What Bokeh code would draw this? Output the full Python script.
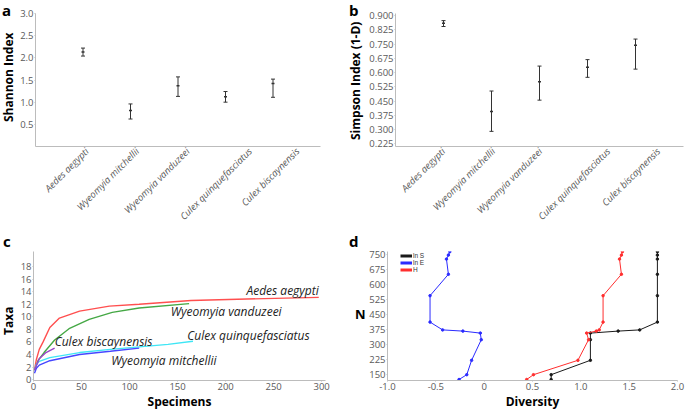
import math
from bokeh.plotting import figure
from bokeh.layouts import row, column
from bokeh.models import (Range1d, FixedTicker, Label, Legend, LegendItem,
                          PrintfTickFormatter, ColumnDataSource, Div)
from bokeh.embed import file_html
from bokeh.resources import INLINE

# ---------------- data ----------------
species = ["Aedes aegypti", "Wyeomyia mitchellii", "Wyeomyia vanduzeei",
           "Culex quinquefasciatus", "Culex biscaynensis"]

shannon_mean = [2.13, 0.81, 1.37, 1.12, 1.42]
shannon_low = [2.04, 0.62, 1.13, 1.00, 1.11]
shannon_high = [2.22, 0.96, 1.57, 1.24, 1.52]

simpson_mean = [0.859, 0.395, 0.552, 0.628, 0.743]
simpson_low = [0.842, 0.291, 0.455, 0.575, 0.618]
simpson_high = [0.873, 0.503, 0.634, 0.668, 0.776]

shannon_ticks = [0.5, 1.0, 1.5, 2.0, 2.5, 3.0]
simpson_ticks = [0.225, 0.300, 0.375, 0.450, 0.525, 0.600, 0.675, 0.750, 0.825, 0.900]

# rarefaction curves (Specimens -> Taxa)
aedes_x = [1, 3, 6, 10, 17, 27, 48, 79, 110, 164, 240, 297]
aedes_y = [1.5, 3.2, 4.8, 6.0, 8.3, 9.8, 10.9, 11.7, 12.0, 12.6, 12.9, 13.1]
vand_x = [1, 5, 11, 22, 37, 58, 82, 110, 162]
vand_y = [1.5, 3.1, 4.3, 6.3, 8.1, 9.6, 10.7, 11.4, 12.1]
bisc_x = [1, 6, 13, 22]
bisc_y = [1.5, 3.3, 4.3, 5.0]
quinq_x = [1, 3, 6, 17, 48, 80, 110, 140, 166]
quinq_y = [1.5, 2.4, 2.9, 3.5, 4.3, 4.8, 5.2, 5.6, 6.1]
mitch_x = [1, 3, 6, 17, 48, 80, 110]
mitch_y = [1.0, 1.8, 2.3, 3.0, 4.0, 4.5, 5.0]
taxa_ticks = [0, 2, 4, 6, 8, 10, 12, 14, 16, 18]
spec_ticks = [0, 50, 100, 150, 200, 250, 300]

# diversity profile
N_vals = [126, 150, 222, 325, 358, 368, 374, 413, 545, 652, 728, 748, 765]
lnS = [0.693, 0.693, 1.099, 1.099, 1.099, 1.386, 1.609, 1.792, 1.792, 1.792, 1.792, 1.792, 1.792]
lnE = [-0.26, -0.18, -0.13, -0.03, -0.04, -0.22, -0.43, -0.56, -0.56, -0.37, -0.39, -0.37, -0.355]
H_vals = [0.44, 0.51, 0.97, 1.08, 1.06, 1.16, 1.19, 1.23, 1.23, 1.42, 1.40, 1.42, 1.43]
N_ticks = [150, 225, 300, 375, 450, 525, 600, 675, 750]
div_ticks = [-1.0, -0.5, 0.0, 0.5, 1.0, 1.5, 2.0]
div_labels = ["-1.0", "-0.5", "0", "0.5", "1.0", "1.5", "2.0"]

# ---------------- styling ----------------
FONT = "Open Sans"
TICK_COLOR = "#5a5a5a"
AXIS_COLOR = "#bcbcbc"
ERR_COLOR = "#333333"
TXT = "#222222"
# horizontal nudges (px) of the rotated category labels, as in the original figure
shift_a = [4, 7, 10, 25, 25]
shift_b = [0, 2, 1, 21, 23]


def make_fig(w, h, bl, br, bt, bb, xr, yr):
    p = figure(width=w, height=h, min_border_left=bl, min_border_right=br,
               min_border_top=bt, min_border_bottom=bb,
               x_range=Range1d(*xr), y_range=Range1d(*yr),
               output_backend="svg", toolbar_location=None, tools="")
    p.grid.visible = False
    p.outline_line_color = None
    p.background_fill_color = "white"
    for ax in p.axis:
        ax.axis_line_color = AXIS_COLOR
        ax.major_tick_line_color = AXIS_COLOR
        ax.minor_tick_line_color = None
        ax.major_tick_in = 0
        ax.major_tick_out = 1
        ax.major_label_standoff = 1
        ax.major_label_text_font = FONT
        ax.major_label_text_font_size = "9.5px"
        ax.major_label_text_color = TICK_COLOR
        ax.axis_label_text_font = FONT
        ax.axis_label_text_font_size = "12px"
        ax.axis_label_text_font_style = "bold"
        ax.axis_label_text_color = "black"
        ax.axis_label_standoff = 0
    return p


def _txt(x, y, text, size, rotate=False):
    # rotated texts: (x, y) is where the start of the text meets its top edge
    rot = "transform-origin:0 0;transform:rotate(-90deg);" if rotate else ""
    return (f'<div style="position:absolute;left:{x}px;top:{y}px;'
            f"font-family:'{FONT}';font-weight:bold;font-size:{size}px;"
            f'line-height:normal;white-space:nowrap;color:#000;{rot}">{text}</div>')


def strip(w, h, parts):
    """Narrow text column beside a panel: panel letter and y-axis title."""
    html = (f'<div style="position:relative;width:{w}px;height:{h}px;">'
            + "".join(parts) + "</div>")
    return Div(text=html, width=w, height=h, margin=(0, 0, 0, 0))


def errorbars(p, means, lows, highs):
    idx = list(range(len(means)))
    src = ColumnDataSource(dict(x=idx, m=means, lo=lows, hi=highs))
    p.segment(x0="x", y0="lo", x1="x", y1="hi", source=src,
              line_color=ERR_COLOR, line_width=1)
    p.scatter(x="x", y="lo", source=src, marker="dash", size=4,
              line_color=ERR_COLOR, line_width=1)
    p.scatter(x="x", y="hi", source=src, marker="dash", size=4,
              line_color=ERR_COLOR, line_width=1)
    p.scatter(x="x", y="m", source=src, marker="dash", size=3,
              line_color=ERR_COLOR, line_width=1.5)


def cat_axis(p, shifts, px_per_unit):
    ax = p.xaxis[0]
    pos = [i + s / px_per_unit for i, s in enumerate(shifts)]
    ax.ticker = FixedTicker(ticks=pos)
    ax.major_label_overrides = {q: s for q, s in zip(pos, species)}
    ax.major_label_orientation = math.pi / 4
    ax.major_label_text_font_style = "italic"
    ax.major_tick_out = 0
    ax.major_label_standoff = 3


R1 = 230   # height of first row
R2 = 182   # height of second row
LW1 = 17   # width of left text strips
LW2 = 26   # width of middle text strips
T1, B1 = 13, 83   # shared top / bottom borders of row 1 (frames align)
T2, B2 = 21, 26   # shared top / bottom borders of row 2

# ---------------- panel a ----------------
AW = 340 - LW1
a_xr, a_yr = (-1.0, 5.0), (0.0, 3.0)
pa = make_fig(AW, R1, 15, 20, T1, B1, a_xr, a_yr)
cat_axis(pa, shift_a, (AW - 35) / 6.0)
pa.yaxis.ticker = FixedTicker(ticks=shannon_ticks)
pa.yaxis.formatter = PrintfTickFormatter(format="%.1f")
errorbars(pa, shannon_mean, shannon_low, shannon_high)
la = strip(LW1, R1, [_txt(2, 0, "a", 15), _txt(0, 122, "Shannon Index", 12, True)])

# ---------------- panel b ----------------
BW = 345 - LW2
b_xr, b_yr = (-1.0, 5.0), (0.2114, 0.9104)
pb = make_fig(BW, R1, 28, 2, T1, B1, b_xr, b_yr)
cat_axis(pb, shift_b, (BW - 30) / 6.0)
pb.yaxis.ticker = FixedTicker(ticks=simpson_ticks)
pb.yaxis.formatter = PrintfTickFormatter(format="%.3f")
errorbars(pb, simpson_mean, simpson_low, simpson_high)
lb = strip(LW2, R1, [_txt(9, 0, "b", 15), _txt(7, 140, "Simpson Index (1-D)", 12, True)])

# ---------------- panel c ----------------
CW = 340 - LW1
c_xr, c_yr = (0.0, 304.0), (-0.15, 20.4)
pc = make_fig(CW, R2, 15, 15, T2, B2, c_xr, c_yr)
pc.xaxis.ticker = FixedTicker(ticks=spec_ticks)
pc.yaxis.ticker = FixedTicker(ticks=taxa_ticks)
pc.xaxis.axis_label = "Specimens"
curves = [(aedes_x, aedes_y, "#ff4f4f"), (vand_x, vand_y, "#45a845"),
          (quinq_x, quinq_y, "#3fe6f5"), (mitch_x, mitch_y, "#4646ff"),
          (bisc_x, bisc_y, "#9a45c8")]
for xs, ys, col in curves:
    pc.line(xs, ys, line_color=col, line_width=1.4)
curve_labels = [("Aedes aegypti", aedes_x[-1], 14.2, "right"),
                ("Wyeomyia vanduzeei", 143, 10.8, "left"),
                ("Culex quinquefasciatus", 160, 7.0, "left"),
                ("Wyeomyia mitchellii", 81, 3.0, "left"),
                ("Culex biscaynensis", 22, 6.0, "left")]
for txt, lx, ly, al in curve_labels:
    pc.add_layout(Label(x=lx, y=ly, text=txt, text_font=FONT, text_font_size="12px",
                        text_font_style="italic", text_align=al,
                        text_baseline="middle", text_color=TXT))
lc = strip(LW1, R2, [_txt(3, 1, "c", 15), _txt(0, 105, "Taxa", 12, True)])

# ---------------- panel d ----------------
DW = 345 - LW2
d_fh = R2 - T2 - B2
d_xr, d_yr = (-1.0, 2.0), (121.0, 766.0)
pd_ = make_fig(DW, R2, 21, 8, T2, B2, d_xr, d_yr)
pd_.xaxis.ticker = FixedTicker(ticks=div_ticks)
pd_.xaxis.major_label_overrides = {t: s for t, s in zip(div_ticks, div_labels)}
pd_.xaxis.axis_label = "Diversity"
pd_.yaxis.ticker = FixedTicker(ticks=N_ticks)
series = [("ln S", lnS, "#1a1a1a"), ("ln E", lnE, "#2b2bff"), ("H", H_vals, "#ff2e2e")]
items = []
for name, xs, col in series:
    pd_.line(xs, N_vals, line_color=col, line_width=1)
    pd_.scatter(xs, N_vals, size=2.5, fill_color=col, line_color=col)
    dummy = pd_.line([float("nan")], [float("nan")], line_color=col, line_width=3)
    items.append(LegendItem(label=name, renderers=[dummy]))
leg = Legend(items=items, location=(13, d_fh - 28), padding=0, margin=0, spacing=0,
             glyph_height=5, glyph_width=12, label_height=5, label_standoff=1,
             label_text_font="Liberation Sans", label_text_font_size="6.5px",
             label_text_color="#333333", border_line_color=None,
             background_fill_alpha=0)
pd_.add_layout(leg)
ld = strip(LW2, R2, [_txt(9, 1, "d", 15), _txt(15, 75, "N", 13)])

layout = column(row(la, pa, lb, pb), row(lc, pc, ld, pd_))
open("out.html", "w").write(file_html(layout, INLINE))
